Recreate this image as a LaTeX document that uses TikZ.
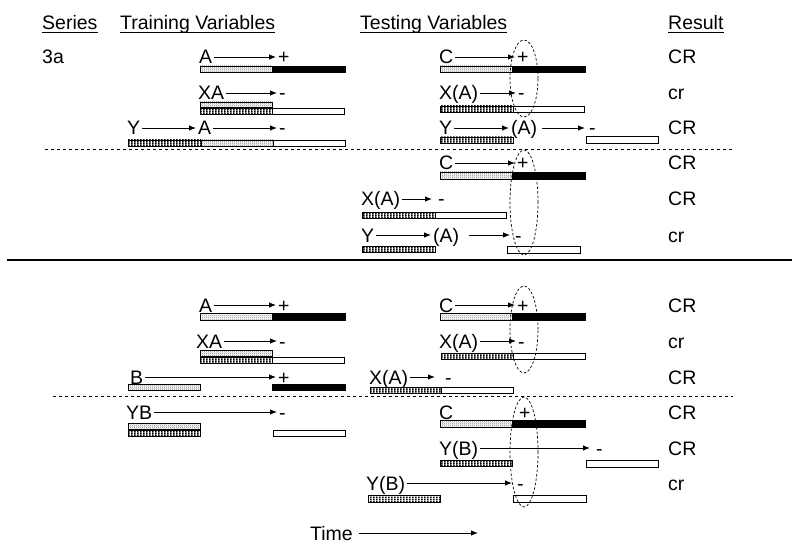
\documentclass[tikz,border=0pt]{standalone}
\usepackage{fontspec}
\setmainfont{Liberation Sans}
\usetikzlibrary{arrows.meta,patterns}

% fine speckle for the CS bars, vertical stripes for the context bars
\pgfdeclarepatternformonly{speckle}{\pgfpointorigin}{\pgfqpoint{2pt}{2pt}}{\pgfqpoint{2pt}{2pt}}{%
  \pgfpathrectangle{\pgfpointorigin}{\pgfqpoint{1pt}{1pt}}%
  \pgfpathrectangle{\pgfqpoint{1pt}{1pt}}{\pgfqpoint{1pt}{1pt}}%
  \pgfusepath{fill}}
\pgfdeclarepatternformonly{vstripes}{\pgfpointorigin}{\pgfqpoint{3.4pt}{2pt}}{\pgfqpoint{3.4pt}{2pt}}{%
  \pgfpathrectangle{\pgfpointorigin}{\pgfqpoint{1.8pt}{2pt}}%
  \pgfusepath{fill}}

\begin{document}
\begin{tikzpicture}[x=1pt, y=-1pt,
  font=\fontsize{19.5}{22}\selectfont,
  lbl/.style={anchor=west, inner sep=2pt, text height=14pt, text depth=0pt},
  hdr/.style={anchor=base west, inner sep=0pt, text depth=3pt},
  go/.style={-{Latex[length=7pt,width=5.5pt]}, line width=0.9pt},
  csbar/.style={draw, line width=0.6pt, pattern=speckle, pattern color=black!45},
  ctxbar/.style={draw, line width=0.6pt, pattern=vstripes},
  usbar/.style={draw, line width=0.6pt, fill=black},
  nobar/.style={draw, line width=0.6pt, fill=white},
  win/.style={draw, line width=0.7pt, dash pattern=on 2.5pt off 2pt}]

  \fill[white] (0,0) rectangle (800,548);

  \node[hdr] (hser) at (42,29.5) {Series};
  \node[hdr] (htrain) at (120,29.5) {Training Variables};
  \node[hdr] (htest) at (360,29.5) {Testing Variables};
  \node[hdr] (hres) at (668,29.5) {Result};
  \foreach \h in {hser,htrain,htest,hres}
    \draw[line width=1.2pt] (\h.south west) -- (\h.south east);

  \node[lbl] (s3a) at (40,57) {3a};

  %% upper series
  \node[lbl] (tA1) at (197,57) {A};
  \node[lbl] (tP1) at (276,57) {+};
  \node[lbl] (xC1) at (437,57) {C};
  \node[lbl] (xP1) at (515,57) {+};
  \node[lbl] (res1) at (666,57) {CR};
  \draw[go] (tA1) -- (tP1);
  \draw[go] (xC1) -- (xP1);

  \node[lbl] (tXA2) at (196,93) {XA};
  \node[lbl] (tM2) at (277,93) {-};
  \node[lbl] (xXA2) at (437,93) {X(A)};
  \node[lbl] (xM2) at (516,93) {-};
  \node[lbl] (res2) at (666,93) {cr};
  \draw[go] (tXA2) -- (tM2);
  \draw[go] (xXA2) -- (xM2);

  \node[lbl] (tY3) at (125,128) {Y};
  \node[lbl] (tA3) at (196,128) {A};
  \node[lbl] (tM3) at (277,128) {-};
  \node[lbl] (xY3) at (437,128) {Y};
  \node[lbl] (xA3) at (509,128) {(A)};
  \node[lbl] (xM3) at (587,128) {-};
  \node[lbl] (res3) at (666,128) {CR};
  \draw[go] (tY3) -- (tA3);
  \draw[go] (tA3) -- (tM3);
  \draw[go] (xY3) -- (xA3);
  \draw[go, shorten <=3pt, shorten >=2pt] (xA3) -- (xM3);

  \node[lbl] (xC4) at (437,163) {C};
  \node[lbl] (xP4) at (515,163) {+};
  \node[lbl] (res4) at (666,163) {CR};
  \draw[go] (xC4) -- (xP4);

  \node[lbl] (xXA5) at (359,199) {X(A)};
  \node[lbl] (xM5) at (436,199) {-};
  \node[lbl] (res5) at (666,199) {CR};
  \draw[go, shorten >=4pt] (xXA5) -- (xM5);

  \node[lbl] (xY6) at (359,235) {Y};
  \node[lbl] (xA6) at (431,235) {(A)};
  \node[lbl] (xM6) at (513,235) {-};
  \node[lbl] (res6) at (666,235) {cr};
  \draw[go] (xY6) -- (xA6);
  \draw[go, shorten <=8pt, shorten >=3pt] (xA6) -- (xM6);

  %% lower series
  \node[lbl] (tA7) at (197,305) {A};
  \node[lbl] (tP7) at (276,305) {+};
  \node[lbl] (xC7) at (437,305) {C};
  \node[lbl] (xP7) at (515,305) {+};
  \node[lbl] (res7) at (666,305) {CR};
  \draw[go] (tA7) -- (tP7);
  \draw[go] (xC7) -- (xP7);

  \node[lbl] (tXA8) at (194,341) {XA};
  \node[lbl] (tM8) at (277,341) {-};
  \node[lbl] (xXA8) at (437,341) {X(A)};
  \node[lbl] (xM8) at (516,341) {-};
  \node[lbl] (res8) at (666,341) {cr};
  \draw[go] (tXA8) -- (tM8);
  \draw[go] (xXA8) -- (xM8);

  \node[lbl] (tB9) at (128,377) {B};
  \node[lbl] (tP9) at (276,377) {+};
  \node[lbl] (xXA9) at (367,377) {X(A)};
  \node[lbl] (xM9) at (443,377) {-};
  \node[lbl] (res9) at (666,377) {CR};
  \draw[go] (tB9) -- (tP9);
  \draw[go, shorten >=8pt] (xXA9) -- (xM9);

  \node[lbl] (tYB10) at (124,412) {YB};
  \node[lbl] (tM10) at (277,412) {-};
  \node[lbl] (xC10) at (437,412) {C};
  \node[lbl] (xP10) at (517,412) {+};
  \node[lbl] (res10) at (666,412) {CR};
  \draw[go] (tYB10) -- (tM10);

  \node[lbl] (xYB11) at (437,448) {Y(B)};
  \node[lbl] (xM11) at (594,448) {-};
  \node[lbl] (res11) at (666,448) {CR};
  \draw[go, shorten >=4pt] (xYB11) -- (xM11);

  \node[lbl] (xYB12) at (364,483) {Y(B)};
  \node[lbl] (xM12) at (515,483) {-};
  \node[lbl] (res12) at (666,483) {cr};
  \draw[go, shorten >=3pt] (xYB12) -- (xM12);

  %% bars
  \foreach \a/\b/\c/\d in {200/66/272/72, 440/66/512/72, 200/102/272/107,
      201/140/273/146, 440/172/512/179, 200/313/272/320, 440/313/512/320,
      200/350/272/356, 128/384/200/390, 128/423/200/429, 440/420/512/427}
    \draw[csbar] (\a,\b) rectangle (\c,\d);
  \foreach \a/\b/\c/\d in {200/108/272/114, 440/106/513/112, 128/140/201/146,
      440/137/513/143, 362/212/435/218, 362/246/435/252, 200/357/272/363,
      441/353/513/359, 370/387/441/393, 128/430/200/436, 440/460/512/466,
      368/495/440/502}
    \draw[ctxbar] (\a,\b) rectangle (\c,\d);
  \foreach \a/\b/\c/\d in {272/66/345/72, 512/66/585/72, 512/172/585/179,
      272/313/345/320, 512/313/585/320, 272/384/345/390, 512/420/585/427}
    \draw[usbar] (\a,\b) rectangle (\c,\d);
  \foreach \a/\b/\c/\d in {272/108/344/114, 513/106/584/112, 273/140/345/146,
      586/136/658/143, 435/212/506/218, 507/246/580/253, 272/357/344/363,
      513/353/585/359, 441/387/513/393, 273/430/345/436, 586/460/658/467,
      513/495/586/502}
    \draw[nobar] (\a,\b) rectangle (\c,\d);

  %% test windows
  \draw[win] (524,78.5) ellipse [x radius=14pt, y radius=38.5pt];
  \draw[win] (524,202.5) ellipse [x radius=14pt, y radius=52.5pt];
  \draw[win] (524,329.5) ellipse [x radius=14pt, y radius=43.5pt];
  \draw[win] (524,452) ellipse [x radius=14pt, y radius=55pt];

  %% separators
  \draw[line width=0.8pt, dash pattern=on 3pt off 3pt] (45,149) -- (733,149);
  \draw[line width=0.8pt, dash pattern=on 3pt off 3pt] (53,396) -- (733,396);
  \draw[line width=1.5pt] (7,260) -- (792,260);

  \node[lbl] (time) at (308,533) {Time};
  \coordinate (tend) at (478,533);
  \draw[go, shorten <=4pt] (time) -- (tend);

\end{tikzpicture}
\end{document}
